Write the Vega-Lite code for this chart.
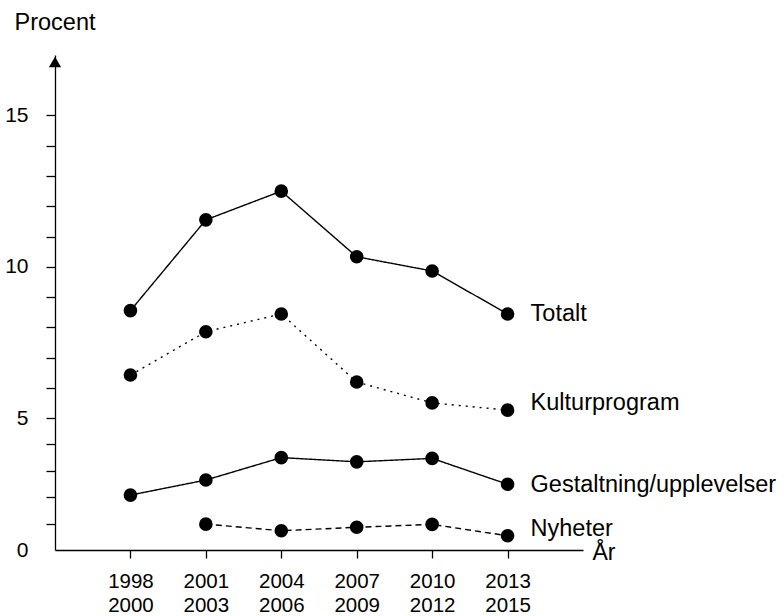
{
  "$schema": "https://vega.github.io/schema/vega-lite/v6.json",
  "width": 528,
  "height": 495,
  "autosize": {"type": "none"},
  "padding": {"left": 55, "top": 55, "right": 201, "bottom": 66},
  "background": "white",
  "config": {
    "view": {"stroke": null},
    "font": "Liberation Sans",
    "axis": {"domainColor": "#000", "domainWidth": 1.3, "tickColor": "#000", "tickWidth": 1.3, "labelColor": "#000", "titleColor": "#000", "grid": false, "labelFont": "Liberation Sans", "titleFont": "Liberation Sans", "titleFontWeight": "normal"}
  },
  "datasets": {
    "series": [
      {"start": 1998, "series": "Totalt", "value": 8.55},
      {"start": 2001, "series": "Totalt", "value": 11.55},
      {"start": 2004, "series": "Totalt", "value": 12.5},
      {"start": 2007, "series": "Totalt", "value": 10.33},
      {"start": 2010, "series": "Totalt", "value": 9.86},
      {"start": 2013, "series": "Totalt", "value": 8.44},
      {"start": 1998, "series": "Kulturprogram", "value": 6.42},
      {"start": 2001, "series": "Kulturprogram", "value": 7.85},
      {"start": 2004, "series": "Kulturprogram", "value": 8.44},
      {"start": 2007, "series": "Kulturprogram", "value": 6.19},
      {"start": 2010, "series": "Kulturprogram", "value": 5.5},
      {"start": 2013, "series": "Kulturprogram", "value": 5.26},
      {"start": 1998, "series": "Gestaltning/upplevelser", "value": 2.08},
      {"start": 2001, "series": "Gestaltning/upplevelser", "value": 2.65},
      {"start": 2004, "series": "Gestaltning/upplevelser", "value": 3.5},
      {"start": 2007, "series": "Gestaltning/upplevelser", "value": 3.34},
      {"start": 2010, "series": "Gestaltning/upplevelser", "value": 3.47},
      {"start": 2013, "series": "Gestaltning/upplevelser", "value": 2.49},
      {"start": 2001, "series": "Nyheter", "value": 0.98},
      {"start": 2004, "series": "Nyheter", "value": 0.73},
      {"start": 2007, "series": "Nyheter", "value": 0.86},
      {"start": 2010, "series": "Nyheter", "value": 0.97},
      {"start": 2013, "series": "Nyheter", "value": 0.54}
    ],
    "arrow": [{"start": 1995, "value": 17}]
  },
  "encoding": {
    "x": {
      "field": "start", "type": "quantitative",
      "scale": {"domain": [1995, 2016], "nice": false, "zero": false},
      "axis": {
        "values": [1998, 2001, 2004, 2007, 2010, 2013],
        "labelExpr": "[format(datum.value,'d'), format(datum.value+2,'d')]",
        "tickSize": 8, "labelPadding": 13, "labelLineHeight": 24, "labelFontSize": 20.5,
        "title": "År", "titleAngle": 0, "titleAlign": "left", "titleBaseline": "alphabetic",
        "titleX": 537, "titleY": 9, "titleFontSize": 23
      }
    },
    "y": {
      "field": "value", "type": "quantitative",
      "scale": {"domain": [0, 5, 17], "range": [495, 363, 0], "nice": false, "zero": false},
      "axis": {
        "values": [0, 1, 2, 3, 4, 5, 6, 7, 8, 9, 10, 11, 12, 13, 14, 15],
        "labelExpr": "datum.value % 5 == 0 ? datum.label : ''",
        "tickOpacity": {"condition": {"test": "datum.value == 0", "value": 0}, "value": 1},
        "tickSize": 9, "labelPadding": 18, "labelFontSize": 21,
        "title": "Procent", "titleAngle": 0, "titleAlign": "left", "titleBaseline": "alphabetic",
        "titleX": -41, "titleY": -26, "titleFontSize": 23.5
      }
    }
  },
  "layer": [
    {
      "data": {"name": "series"},
      "mark": {"type": "line", "color": "#000", "strokeWidth": 1.4},
      "encoding": {
        "detail": {"field": "series"},
        "strokeDash": {
          "field": "series", "type": "nominal", "legend": null,
          "scale": {"domain": ["Totalt", "Kulturprogram", "Gestaltning/upplevelser", "Nyheter"], "range": [[1, 0], [2, 5], [1, 0], [6, 4]]}
        }
      }
    },
    {
      "data": {"name": "series"},
      "mark": {"type": "point", "filled": true, "color": "#000", "opacity": 1, "size": 185}
    },
    {
      "data": {"name": "series"},
      "transform": [{"filter": "datum.start == 2013 && (datum.series == 'Totalt' || datum.series == 'Gestaltning/upplevelser')"}],
      "mark": {"type": "text", "align": "left", "baseline": "alphabetic", "dx": 23, "dy": 7.5, "fontSize": 23.5, "font": "Liberation Sans", "color": "#000"},
      "encoding": {"text": {"field": "series"}}
    },
    {
      "data": {"name": "series"},
      "transform": [{"filter": "datum.start == 2013 && (datum.series == 'Kulturprogram' || datum.series == 'Nyheter')"}],
      "mark": {"type": "text", "align": "left", "baseline": "alphabetic", "dx": 23, "dy": 0, "fontSize": 23.5, "font": "Liberation Sans", "color": "#000"},
      "encoding": {"text": {"field": "series"}}
    },
    {
      "data": {"name": "arrow"},
      "mark": {"type": "point", "shape": "triangle-up", "filled": true, "color": "#000", "opacity": 1, "size": 150, "yOffset": 7}
    }
  ]
}
